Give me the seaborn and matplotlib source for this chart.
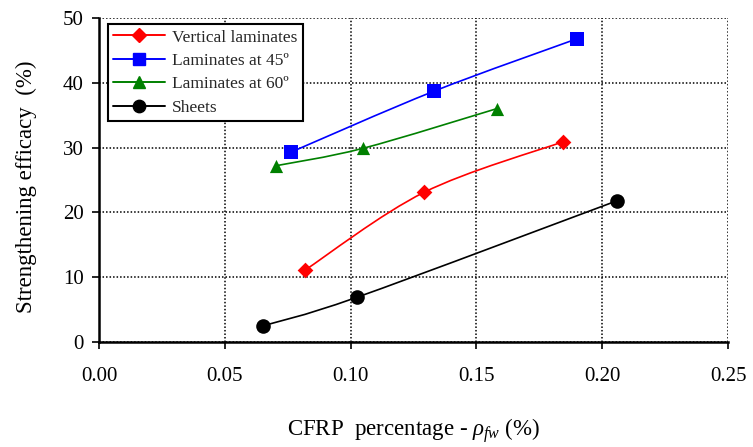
import numpy as np
import pandas as pd
import matplotlib
matplotlib.use("Agg")
import matplotlib.pyplot as plt
from matplotlib.path import Path
from matplotlib.patches import PathPatch
from matplotlib.lines import Line2D
import seaborn as sns

# ---- data ----
series_names = ["Vertical laminates", "Laminates at 45º", "Laminates at 60º", "Sheets"]
vert_x = [0.0819, 0.1292, 0.1844]
vert_y = [11.1, 23.1, 30.9]
lam45_x = [0.0763, 0.1331, 0.1900]
lam45_y = [29.3, 38.7, 46.8]
lam60_x = [0.0703, 0.1050, 0.1580]
lam60_y = [27.2, 29.9, 36.0]
sheet_x = [0.0652, 0.1025, 0.2059]
sheet_y = [2.5, 6.9, 21.8]
x_ticks = [0.00, 0.05, 0.10, 0.15, 0.20, 0.25]
y_ticks = [0, 10, 20, 30, 40, 50]

colors = {"Vertical laminates": "#ff0000", "Laminates at 45º": "#0000ff",
          "Laminates at 60º": "#008000", "Sheets": "#000000"}
markers = {"Vertical laminates": "D", "Laminates at 45º": "s",
           "Laminates at 60º": "^", "Sheets": "o"}
msizes = {"Vertical laminates": 8, "Laminates at 45º": 10,
          "Laminates at 60º": 9.5, "Sheets": 10.5}

xs = [vert_x, lam45_x, lam60_x, sheet_x]
ys = [vert_y, lam45_y, lam60_y, sheet_y]

df = pd.concat([pd.DataFrame({"x": x, "y": y, "series": n})
                for n, x, y in zip(series_names, xs, ys)], ignore_index=True)

sns.set_theme(style="white")
plt.rcParams["font.family"] = ["Liberation Serif", "DejaVu Serif"]
plt.rcParams["mathtext.fontset"] = "custom"
plt.rcParams["mathtext.rm"] = "Liberation Serif"
plt.rcParams["mathtext.it"] = "Liberation Serif:italic"

fig = plt.figure(figsize=(7.53, 4.47), dpi=100)
ax = fig.add_axes([0.1315, 0.2349, 0.8353, 0.7248])


def smooth_path(x, y, t=1.0):
    P = np.column_stack([x, y])
    n = len(P)
    verts = [P[0]]
    codes = [Path.MOVETO]
    for i in range(n - 1):
        p_prev = P[i - 1] if i > 0 else P[i]
        p_next2 = P[i + 2] if i + 2 < n else P[i + 1]
        c1 = P[i] + (P[i + 1] - p_prev) / 6.0 * t
        c2 = P[i + 1] - (p_next2 - P[i]) / 6.0 * t
        verts += [c1, c2, P[i + 1]]
        codes += [Path.CURVE4] * 3
    return Path(verts, codes)


for n, x, y in zip(series_names, xs, ys):
    ax.add_patch(PathPatch(smooth_path(x, y), fill=False, edgecolor=colors[n],
                           lw=1.2, zorder=3))

for n in series_names:
    sub = df[df["series"] == n]
    sns.scatterplot(data=sub, x="x", y="y", ax=ax, color=colors[n],
                    marker=markers[n], s=msizes[n] ** 2, edgecolor=colors[n],
                    linewidth=0, zorder=4, legend=False)

ax.set_xlim(0, 0.25)
ax.set_ylim(0, 50)
ax.set_xticks(x_ticks)
ax.set_yticks(y_ticks)
ax.set_xticklabels([f"{v:.2f}" for v in x_ticks])
ax.set_yticklabels([str(v) for v in y_ticks])
ax.grid(True, color="black", linestyle=(0, (1, 1.3)), linewidth=1.1)
ax.set_axisbelow(True)
for s in ["top", "right"]:
    ax.spines[s].set_visible(False)
for s in ["left", "bottom"]:
    ax.spines[s].set_color("black")
    ax.spines[s].set_linewidth(1.8)
ax.tick_params(axis="both", direction="out", length=5, width=1.2, colors="black",
               labelsize=15, pad=6, left=True, bottom=True)
ax.tick_params(axis="x", pad=13)

ax.set_xlabel(r"CFRP  percentage - $\rho_{fw}$ (%)", fontsize=16.5, labelpad=22, color="black")
ax.set_ylabel("Strengthening efficacy  (%)", fontsize=16.5, color="black")
ax.yaxis.set_label_coords(-0.099, 0.478)

handles = [Line2D([0], [0], color=colors[n], lw=1.4, marker=markers[n],
                  markersize=msizes[n] * 0.85, markerfacecolor=colors[n],
                  markeredgecolor=colors[n]) for n in series_names]
leg = ax.legend(handles, series_names, loc="upper left",
                bbox_to_anchor=(0.0143, 0.981), fontsize=12.5, frameon=True,
                fancybox=False, edgecolor="black", framealpha=1,
                borderpad=0.3, handlelength=3.0, handletextpad=0.4,
                labelspacing=0.42, borderaxespad=0)
leg.get_frame().set_linewidth(1.5)

fig.savefig("out.png", dpi=100)
